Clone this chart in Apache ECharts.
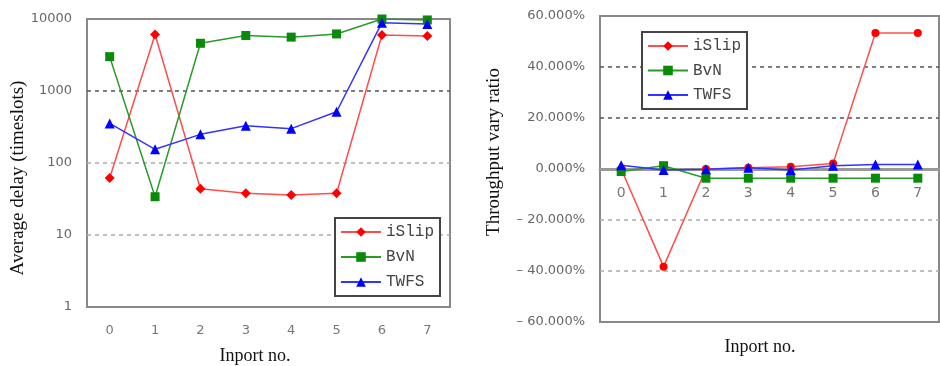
<!DOCTYPE html>
<html>
<head>
<meta charset="utf-8">
<script src="https://cdn.jsdelivr.net/npm/echarts@6/dist/echarts.min.js"></script>
<style>html,body{margin:0;padding:0;background:#fff;}#c{width:940px;height:366px;}</style>
</head>
<body>
<div id="c"></div>
<script>
const categories = ['0','1','2','3','4','5','6','7'];
const seriesNames = ['iSlip','BvN','TWFS'];
// Left chart: average delay (timeslots), log scale
const delayISlip = [62, 6100, 44, 38, 36, 38, 6000, 5800];
const delayBvN   = [3000, 34, 4600, 5900, 5600, 6200, 10000, 9700];
const delayTWFS  = [355, 155, 250, 330, 300, 515, 8900, 8500];
// Right chart: throughput vary ratio (%)
const ratioISlip = [0, -38.3, 0, 0.5, 0.9, 2.2, 53.3, 53.3];
const ratioBvN   = [-1, 1.3, -3.6, -3.6, -3.6, -3.6, -3.6, -3.6];
const ratioTWFS  = [1.5, -0.4, -0.1, 0.5, -0.4, 1.3, 1.8, 1.8];
const delayTicks = [1, 10, 100, 1000, 10000];
const ratioTicks = [-60, -40, -20, 0, 20, 40, 60];

const RED = '#ff0000', GREEN = '#0a8a0a', BLUE = '#0000ff';
const sans = 'DejaVu Sans';
const mono = 'Liberation Mono';

const chart = echarts.init(document.getElementById('c'), null, {renderer: 'canvas'});

function mkSeries(name, data, color, lineColor, symbol, size, idx) {
  return {
    name, type: 'line', data, xAxisIndex: idx, yAxisIndex: idx,
    symbol, symbolSize: size,
    itemStyle: {color},
    lineStyle: {color: lineColor, width: 1.5},
    emphasis: {disabled: true},
    animation: false
  };
}

const legendBase = {
  orient: 'vertical',
  itemWidth: 40, itemHeight: 12,
  borderColor: '#444', borderWidth: 2,
  backgroundColor: '#fff',
  textStyle: {fontFamily: mono, fontSize: 16, color: '#444'},
  data: seriesNames,
  selectedMode: false
};

const gridR = {left: 600, top: 16, width: 339, height: 306};
const zeroOffset = -gridR.height * (0 - ratioTicks[0]) / (ratioTicks[ratioTicks.length - 1] - ratioTicks[0]);

chart.setOption({
  animation: false,
  backgroundColor: '#fff',
  grid: [
    {left: 87, top: 19, width: 363, height: 288, show: true, borderColor: '#888', borderWidth: 2, backgroundColor: 'transparent'},
    Object.assign({show: true, borderColor: '#888', borderWidth: 2, backgroundColor: 'transparent'}, gridR)
  ],
  legend: [
    Object.assign({}, legendBase, {left: 335, top: 218, padding: [6, 6, 6, 5], itemGap: 9}),
    Object.assign({}, legendBase, {left: 642, top: 32, padding: [6, 6, 6, 5], itemGap: 8.5})
  ],
  xAxis: [
    {type: 'category', gridIndex: 0, data: categories, boundaryGap: true,
     axisLine: {lineStyle: {color: '#888', width: 2}},
     axisTick: {inside: true, length: 4, lineStyle: {color: '#555'}},
     axisLabel: {fontFamily: sans, fontSize: 13, color: '#777', margin: 17},
     splitLine: {show: false}},
    {type: 'category', gridIndex: 1, data: categories, boundaryGap: true,
     position: 'bottom', offset: zeroOffset,
     axisLine: {onZero: false, lineStyle: {color: '#999', width: 3}},
     axisTick: {inside: true, length: 4, lineStyle: {color: '#666'}},
     axisLabel: {fontFamily: sans, fontSize: 14, color: '#777', margin: 17},
     splitLine: {show: false}}
  ],
  yAxis: [
    {type: 'log', gridIndex: 0, logBase: 10, min: delayTicks[0], max: delayTicks[delayTicks.length - 1],
     axisLine: {show: false}, axisTick: {show: false},
     axisLabel: {fontFamily: sans, fontSize: 13, color: '#666', margin: 15,
                 formatter: v => String(Math.round(v))},
     splitLine: {show: true, lineStyle: {type: [4, 4], width: 1.5,
                 color: ['rgba(0,0,0,0)', '#aaa', '#aaa', '#555', 'rgba(0,0,0,0)']}}},
    {type: 'value', gridIndex: 1, min: ratioTicks[0], max: ratioTicks[ratioTicks.length - 1], interval: 20,
     axisLine: {show: false}, axisTick: {show: false},
     axisLabel: {fontFamily: sans, fontSize: 13, color: '#666', margin: 15,
                 formatter: v => (v < 0 ? '– ' + Math.abs(v).toFixed(3) : v.toFixed(3)) + '%'},
     splitLine: {show: true, lineStyle: {type: [4, 4], width: 1.5,
                 color: ['rgba(0,0,0,0)', '#aaa', '#aaa', 'rgba(0,0,0,0)', '#555', '#555', 'rgba(0,0,0,0)']}}}
  ],
  graphic: [
    {type: 'text', x: 18, y: 178, rotation: Math.PI / 2,
     style: {text: 'Average delay (timeslots)', font: '19px "Liberation Serif"', fill: '#111', textAlign: 'center', textVerticalAlign: 'middle'}},
    {type: 'text', x: 255, y: 356,
     style: {text: 'Inport no.', font: '18px "Liberation Serif"', fill: '#111', textAlign: 'center', textVerticalAlign: 'middle'}},
    {type: 'text', x: 494, y: 152, rotation: Math.PI / 2,
     style: {text: 'Throughput vary ratio', font: '19px "Liberation Serif"', fill: '#111', textAlign: 'center', textVerticalAlign: 'middle'}},
    {type: 'text', x: 760, y: 347,
     style: {text: 'Inport no.', font: '18px "Liberation Serif"', fill: '#111', textAlign: 'center', textVerticalAlign: 'middle'}}
  ],
  series: [
    mkSeries('iSlip', delayISlip, RED, '#ff4d4d', 'diamond', 10, 0),
    mkSeries('BvN', delayBvN, GREEN, '#2a9a2a', 'rect', 9, 0),
    mkSeries('TWFS', delayTWFS, BLUE, '#3333ff', 'triangle', 10, 0),
    mkSeries('iSlip', ratioISlip, RED, '#ff4d4d', 'circle', 8, 1),
    mkSeries('BvN', ratioBvN, GREEN, '#2a9a2a', 'rect', 9, 1),
    mkSeries('TWFS', ratioTWFS, BLUE, '#3333ff', 'triangle', 10, 1)
  ]
});
</script>
</body>
</html>
